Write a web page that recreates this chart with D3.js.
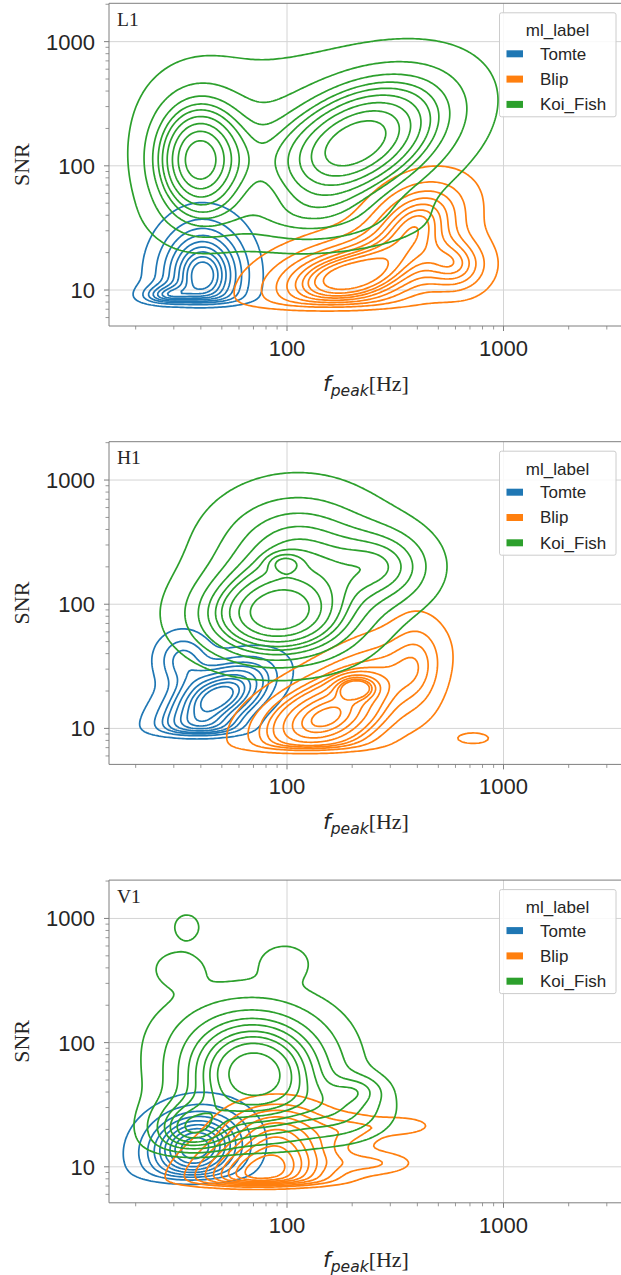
<!DOCTYPE html>
<html><head><meta charset="utf-8">
<script src="https://cdn.jsdelivr.net/npm/d3@7"></script>
<style>body{margin:0;background:#fff}</style>
</head><body><svg id="c" width="621" height="1275" xmlns="http://www.w3.org/2000/svg"></svg>
<script>
// ---------------- data ----------------
const detectors = ["L1", "H1", "V1"];
const classLabels = ["Tomte", "Blip", "Koi_Fish"];
const classColors = ["#1f77b4", "#ff7f0e", "#2ca02c"];
const xTickValues = [100, 1000];
const yTickValues = [10, 100, 1000];
const xDomain = [15.06, 3489];
const yDomain = [5.13, 2036];
const legendTitle = "ml_label";

// density clusters:
// [log10 f_peak, log10 SNR, spread in log f, spread in log SNR, correlation, weight]
const L1_Tomte = [
  [1.61, 1.12, 0.12, 0.25, 0.0, 0.90],
  [1.44, 0.95, 0.07, 0.06, 0.0, 0.06]
];
const L1_Blip = [
  [2.28, 1.10, 0.24, 0.20, 0.3, 0.60],
  [2.60, 1.55, 0.15, 0.22, 0.3, 0.30],
  [2.78, 1.20, 0.10, 0.15, 0.0, 0.10]
];
const L1_Koi = [
  [1.59, 2.04, 0.14, 0.32, 0.0, 0.28],
  [2.24, 2.10, 0.22, 0.34, 0.35, 0.26],
  [2.46, 2.28, 0.25, 0.34, 0.35, 0.28],
  [1.92, 2.10, 0.20, 0.30, 0.0, 0.06],
  [1.95, 2.60, 0.45, 0.35, 0.0, 0.08],
  [2.10, 1.55, 0.35, 0.15, 0.0, 0.06]
];
const H1_Tomte = [
  [1.68, 1.25, 0.15, 0.18, 0.5, 0.75],
  [1.52, 1.55, 0.08, 0.14, 0.0, 0.12],
  [1.62, 1.00, 0.12, 0.08, 0.0, 0.10]
];
const H1_Blip = [
  [2.15, 1.05, 0.19, 0.20, 0.3, 0.55],
  [2.35, 1.35, 0.20, 0.25, 0.5, 0.30],
  [2.32, 1.33, 0.06, 0.06, 0.0, 0.04],
  [2.60, 1.50, 0.08, 0.25, 0.0, 0.08],
  [2.86, 0.92, 0.05, 0.03, 0.0, 0.005]
];
const H1_Koi = [
  [1.95, 1.90, 0.23, 0.23, 0.0, 0.45],
  [2.05, 2.40, 0.25, 0.33, 0.0, 0.38],
  [2.45, 2.30, 0.15, 0.20, 0.0, 0.10],
  [1.99, 2.33, 0.05, 0.05, 0.0, 0.006]
];
const V1_Tomte = [
  [1.575, 1.15, 0.14, 0.19, 0.1, 1.00]
];
const V1_Blip = [
  [1.89, 0.95, 0.20, 0.20, 0.2, 0.65],
  [1.95, 1.30, 0.15, 0.15, 0.0, 0.15],
  [2.52, 1.33, 0.10, 0.05, 0.0, 0.012],
  [2.30, 1.30, 0.10, 0.08, 0.0, 0.02],
  [2.40, 1.03, 0.12, 0.06, 0.0, 0.02]
];
const V1_Koi = [
  [1.85, 1.72, 0.22, 0.30, 0.0, 0.65],
  [1.80, 2.10, 0.28, 0.25, 0.0, 0.10],
  [2.33, 1.62, 0.08, 0.08, 0.0, 0.012],
  [2.25, 1.45, 0.15, 0.15, 0.0, 0.06],
  [1.50, 2.60, 0.08, 0.10, 0.0, 0.012],
  [1.99, 2.65, 0.08, 0.10, 0.0, 0.012],
  [1.55, 1.30, 0.12, 0.15, 0.0, 0.10],
  [1.537, 2.93, 0.045, 0.08, 0.0, 0.0055]
];
// lower SNR cut-off of each class: [log10 SNR floor, softness]
const L1_floor = [[0.90, 0.035], [0.86, 0.040], [1.20, 0.08]];
const H1_floor = [[0.95, 0.040], [0.83, 0.035], [1.30, 0.08]];
const V1_floor = [[0.90, 0.050], [0.86, 0.030], [1.10, 0.06]];

const panelClusters = {
  L1: [L1_Tomte, L1_Blip, L1_Koi],
  H1: [H1_Tomte, H1_Blip, H1_Koi],
  V1: [V1_Tomte, V1_Blip, V1_Koi]
};
const panelFloors = { L1: L1_floor, H1: H1_floor, V1: V1_floor };

// ---------------- layout ----------------
const svg = d3.select("#c");
const plotLeft = 109, plotRight = 621, plotH = 322.7;
const panelTops = [3.3, 441.7, 880.1];
const textColor = "#262626";
const step = 2;

function evalDensity(clusters, floor, X, Y) {
  let s = 0;
  for (const [cx, cy, sx, sy, r, w] of clusters) {
    const dx = (X - cx) / sx, dy = (Y - cy) / sy;
    const q = (dx * dx - 2 * r * dx * dy + dy * dy) / (1 - r * r);
    s += w / (2 * Math.PI * sx * sy * Math.sqrt(1 - r * r)) * Math.exp(-q / 2);
  }
  const z = (Y - floor[0]) / floor[1];
  return s / (1 + Math.exp(-1.7 * z));
}

detectors.forEach((det, p) => {
  const top = panelTops[p], bottom = top + plotH;
  const x = d3.scaleLog().domain(xDomain).range([plotLeft, plotRight]);
  const y = d3.scaleLog().domain(yDomain).range([bottom, top]);
  const g = svg.append("g");

  // grid
  const gridG = g.append("g");
  xTickValues.forEach(v => gridG.append("line").attr("x1", x(v)).attr("x2", x(v)).attr("y1", top).attr("y2", bottom)
    .attr("stroke", "#d4d4d4").attr("stroke-width", 1));
  yTickValues.forEach(v => gridG.append("line").attr("x1", plotLeft).attr("x2", plotRight).attr("y1", y(v)).attr("y2", y(v))
    .attr("stroke", "#d4d4d4").attr("stroke-width", 1));

  // clip
  const clipId = "clip" + p;
  svg.append("clipPath").attr("id", clipId).append("rect")
    .attr("x", plotLeft).attr("y", top).attr("width", plotRight - plotLeft).attr("height", plotH);

  const nx = Math.ceil((plotRight - plotLeft) / step) + 1;
  const ny = Math.ceil(plotH / step) + 1;
  const cg = g.append("g").attr("clip-path", `url(#${clipId})`);
  const proj = d3.geoIdentity().scale(step).translate([plotLeft - 0.5 * step, top - 0.5 * step]);
  const path = d3.geoPath(proj);

  panelClusters[det].forEach((clusters, k) => {
    const floor = panelFloors[det][k];
    const vals = new Float64Array(nx * ny);
    for (let j = 0; j < ny; j++) {
      const Y = Math.log10(y.invert(top + j * step));
      for (let i = 0; i < nx; i++) {
        const X = Math.log10(x.invert(plotLeft + i * step));
        vals[j * nx + i] = evalDensity(clusters, floor, X, Y);
      }
    }
    const sorted = Array.from(vals).sort((a, b) => b - a);
    const total = d3.sum(sorted);
    let c = 0;
    const cums = sorted.map(v => (c += v) / total);
    const isoProps = d3.range(9).map(i => 0.05 + i * (0.95 / 9));
    const levels = isoProps.map(q => sorted[Math.min(d3.bisectLeft(cums, 1 - q), sorted.length - 1)]);
    const contours = d3.contours().size([nx, ny]).thresholds(levels)(vals);
    cg.append("g").selectAll("path").data(contours).join("path")
      .attr("d", path).attr("fill", "none")
      .attr("stroke", classColors[k]).attr("stroke-width", 1.7).attr("stroke-linejoin", "round");
  });

  // axes
  const minorX = [];
  [10, 100, 1000].forEach(d => d3.range(2, 10).forEach(m => { const v = d * m; if (v > xDomain[0] && v < xDomain[1]) minorX.push(v); }));
  const minorY = [];
  [1, 10, 100, 1000].forEach(d => d3.range(2, 10).forEach(m => { const v = d * m; if (v > yDomain[0] && v < yDomain[1]) minorY.push(v); }));
  const axCol = "#7f7f7f";
  const axG = g.append("g");
  axG.append("line").attr("x1", plotLeft).attr("x2", plotLeft).attr("y1", top).attr("y2", bottom).attr("stroke", axCol);
  axG.append("line").attr("x1", plotLeft).attr("x2", plotRight + 1).attr("y1", bottom).attr("y2", bottom).attr("stroke", axCol);
  axG.append("line").attr("x1", plotLeft).attr("x2", plotRight + 1).attr("y1", top).attr("y2", top).attr("stroke", axCol);
  xTickValues.forEach(v => {
    axG.append("line").attr("x1", x(v)).attr("x2", x(v)).attr("y1", bottom).attr("y2", bottom + 5).attr("stroke", axCol);
    axG.append("text").attr("x", x(v)).attr("y", bottom + 30).attr("text-anchor", "middle")
      .attr("font-family", "Liberation Sans, Arial, sans-serif").attr("font-size", 22).attr("fill", textColor).text(v);
  });
  minorX.forEach(v => axG.append("line").attr("x1", x(v)).attr("x2", x(v)).attr("y1", bottom).attr("y2", bottom + 3.5).attr("stroke", axCol).attr("stroke-width", 0.8));
  yTickValues.forEach(v => {
    axG.append("line").attr("x1", plotLeft - 5).attr("x2", plotLeft).attr("y1", y(v)).attr("y2", y(v)).attr("stroke", axCol);
    axG.append("text").attr("x", plotLeft - 14).attr("y", y(v)).attr("dy", "0.36em").attr("text-anchor", "end")
      .attr("font-family", "Liberation Sans, Arial, sans-serif").attr("font-size", 22).attr("fill", textColor).text(v);
  });
  minorY.forEach(v => axG.append("line").attr("x1", plotLeft - 3.5).attr("x2", plotLeft).attr("y1", y(v)).attr("y2", y(v)).attr("stroke", axCol).attr("stroke-width", 0.8));

  // labels
  g.append("text").attr("transform", `translate(28.5,${top + plotH / 2}) rotate(-90)`).attr("text-anchor", "middle")
    .attr("font-family", "Liberation Serif, Times New Roman, serif").attr("font-size", 22).attr("fill", textColor).text("SNR");
  const xl = g.append("text").attr("x", 366).attr("y", bottom + 64.5).attr("text-anchor", "middle").attr("fill", textColor);
  xl.append("tspan").attr("font-family", "DejaVu Sans, sans-serif").attr("font-style", "italic").attr("font-size", 22).text("f");
  xl.append("tspan").attr("font-family", "DejaVu Sans, sans-serif").attr("font-style", "italic").attr("font-size", 15.5).attr("dy", 5).text("peak");
  xl.append("tspan").attr("font-family", "Liberation Serif, serif").attr("font-size", 22).attr("dy", -5).text("[Hz]");
  g.append("text").attr("x", 117).attr("y", top + 22.7).attr("font-family", "Liberation Serif, serif").attr("font-size", 19.5)
    .attr("fill", textColor).text(det);

  // legend
  const lg = g.append("g").attr("transform", `translate(499.5,${top + 9.5})`);
  lg.append("rect").attr("width", 116.5).attr("height", 104).attr("rx", 2).attr("fill", "white").attr("fill-opacity", 0.85)
    .attr("stroke", "#cccccc").attr("stroke-width", 1);
  lg.append("text").attr("x", 58).attr("y", 23.5).attr("text-anchor", "middle").attr("font-family", "Liberation Sans, Arial, sans-serif")
    .attr("font-size", 17).attr("fill", textColor).text(legendTitle);
  classLabels.forEach((lab, k) => {
    const yy = 41 + k * 25.3;
    lg.append("rect").attr("x", 7).attr("y", yy - 3.5).attr("width", 16.5).attr("height", 7).attr("fill", classColors[k]);
    lg.append("text").attr("x", 40.5).attr("y", yy + 6).attr("font-family", "Liberation Sans, Arial, sans-serif")
      .attr("font-size", 17).attr("fill", textColor).text(lab);
  });
});
</script></body></html>
